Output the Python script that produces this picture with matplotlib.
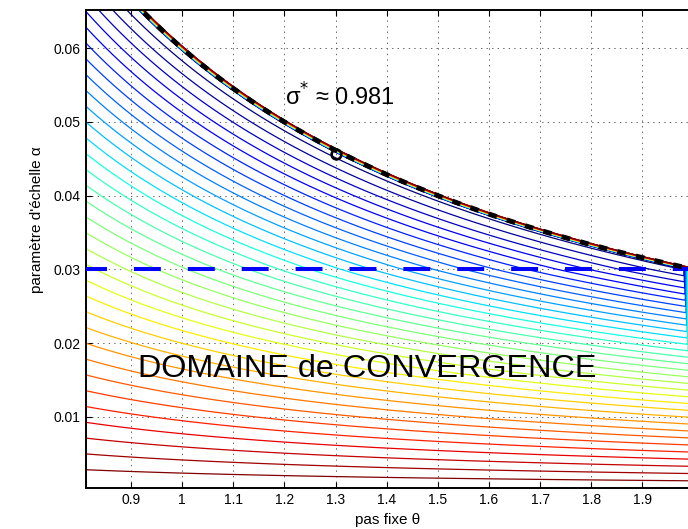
import numpy as np
import matplotlib
matplotlib.use("Agg")
import matplotlib.pyplot as plt

plt.rcParams["font.family"] = ["Liberation Sans", "DejaVu Sans"]
plt.rcParams["lines.scale_dashes"] = False

# --- valeurs ----------------------------------------------------------------
theta_lim = (0.8125, 2.0)
alpha_lim = (0.00036, 0.0652)
x_ticks = [0.9, 1.0, 1.1, 1.2, 1.3, 1.4, 1.5, 1.6, 1.7, 1.8, 1.9]
x_ticklabels = ["0.9", "1", "1.1", "1.2", "1.3", "1.4", "1.5", "1.6", "1.7", "1.8", "1.9"]
y_ticks = [0.01, 0.02, 0.03, 0.04, 0.05, 0.06]
y_ticklabels = ["0.01", "0.02", "0.03", "0.04", "0.05", "0.06"]

n_levels = 33                      # niveaux de contour (jet, bleu -> rouge)
boundary_c = 0.0600                # frontiere de convergence : alpha * theta = c
alpha_limit = 0.03                 # tirets bleus horizontaux
opt_theta, opt_alpha = 1.3, 0.0457 # point optimal (cercle)
sigma_star = 0.981

# modele du facteur de convergence (normalise 0..1 sur les niveaux)
A0, S0, THETA0 = 1.0408, 14.58, 0.8125
P_LO, P_HI, P_ALPHA = 0.85, 0.975, 0.03
W_BAND = 0.0006
THETA_BEND, BEND_W = 1.9805, 0.022


def rate_field(th, al):
    p = P_LO + (P_HI - P_LO) * np.clip(al / P_ALPHA, 0, 1)
    v1 = A0 - S0 * (th / THETA0) ** p * al          # decroissance lente
    v2 = (al * th - boundary_c) / W_BAND + 0.5       # divergence au-dela de la frontiere
    v3 = (th - THETA_BEND) / BEND_W                  # |1 - theta| pres de theta = 2
    return np.maximum(np.maximum(v1, v2), v3)


th = np.concatenate([np.linspace(theta_lim[0], 1.95, 1400, endpoint=False),
                     np.linspace(1.95, theta_lim[1], 500)])
al = np.linspace(0.0002, 0.0655, 1500)
T, AL = np.meshgrid(th, al)
Z = rate_field(T, AL)
levels = np.linspace(0.0, 1.0, n_levels)

fig = plt.figure(figsize=(6.88, 5.29), dpi=100)
ax = fig.add_axes([86.25 / 688, 41.3 / 529, 607.3 / 688, 477.7 / 529])

ax.contour(T, AL, Z, levels=levels, cmap="jet", linewidths=0.9, zorder=2)

# frontiere du domaine
tb = np.linspace(theta_lim[0], theta_lim[1], 500)
ax.plot(tb, boundary_c / tb, color="k", lw=3.6, linestyle=(0, (6.3, 7.5)),
        dash_capstyle="butt", zorder=4)
ax.axhline(alpha_limit, color=(0, 0, 1), lw=2.9, linestyle=(4.3, (19.4, 19.4)),
           dash_capstyle="butt", zorder=3)
ax.plot([opt_theta], [opt_alpha], "o", ms=7, mfc="none", mec="k", mew=1.9, zorder=5)

ax.text(1.2016, 0.0522, "σ$^{*}$ ≈ %.3f" % sigma_star, fontsize=17, va="baseline", zorder=6)
ax.text(0.9143, 0.0154, "DOMAINE de CONVERGENCE", fontsize=23.3, va="baseline", zorder=6)

ax.set_xlim(*theta_lim)
ax.set_ylim(*alpha_lim)
ax.set_xticks(x_ticks)
ax.set_xticklabels(x_ticklabels)
ax.set_yticks(y_ticks)
ax.set_yticklabels(y_ticklabels)
ax.tick_params(direction="in", length=4.5, width=0.8, top=True, right=True,
               labelsize=10, pad=4)
ax.grid(True, linestyle=(0, (1, 3)), color="0.3", lw=0.6)
for s in ax.spines.values():
    s.set_linewidth(1.4)

ax.set_xlabel("pas fixe θ", fontsize=11)
ax.xaxis.set_label_coords((388 - 86.25) / 607.3, -(520 - 487.7) / 477.7)
ax.xaxis.label.set_va("center")
ax.set_ylabel("paramètre d'échelle α", fontsize=11)
ax.yaxis.set_label_coords((37 - 86.25) / 607.3, (487.7 - 220) / 477.7)
ax.yaxis.label.set_va("center")

fig.savefig("out.png", dpi=100)
